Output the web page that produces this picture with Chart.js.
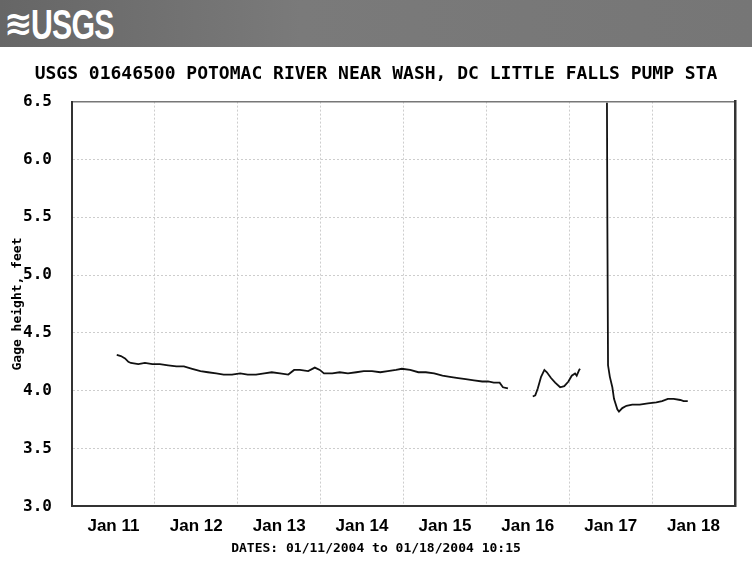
<!DOCTYPE html>
<html>
<head>
<meta charset="utf-8">
<script src="https://cdn.jsdelivr.net/npm/chart.js@4"></script>
<style>
  body { margin: 0; background: #fff; }
  #wrap { position: relative; width: 752px; height: 561px; overflow: hidden; }
  #banner {
    position: absolute; left: 0; top: 0; width: 752px; height: 47px;
    background: linear-gradient(90deg, #666 0%, #7a7a7a 40%, #767676 100%);
  }
  #logo {
    position: absolute; left: 4px; top: 1px; color: #fff; white-space: nowrap;
    font-family: "Liberation Sans", Arial, sans-serif; font-weight: bold;
  }
  #logo .wave { font-family: "DejaVu Sans"; font-size: 34px; vertical-align: top; position: relative; top: 2px; }
  #logo .name { display: inline-block; font-size: 42px; transform: scaleX(0.72); transform-origin: left; margin-left: -2px; letter-spacing: -1px; }
  canvas { position: absolute; left: 0; top: 0; }
</style>
</head>
<body>
<div id="wrap">
  <div id="banner"><div id="logo"><span class="wave">≋</span><span class="name">USGS</span></div></div>
  <canvas id="gageChart" width="752" height="561"></canvas>
</div>
<script>
// days counted from Jan 11 2004 00:00
const dayLabels = ['Jan 11', 'Jan 12', 'Jan 13', 'Jan 14', 'Jan 15', 'Jan 16', 'Jan 17', 'Jan 18'];

const seg1Day = [0.54, 0.59, 0.64, 0.68, 0.71, 0.80, 0.88, 0.97, 1.06, 1.16, 1.26, 1.35, 1.45, 1.55, 1.64,
  1.74, 1.83, 1.93, 2.03, 2.12, 2.22, 2.32, 2.41, 2.51, 2.61, 2.68, 2.75, 2.85, 2.93, 2.99, 3.04, 3.14,
  3.23, 3.33, 3.43, 3.52, 3.62, 3.72, 3.81, 3.91, 3.98, 4.08, 4.18, 4.27, 4.37, 4.47, 4.56, 4.66, 4.75,
  4.85, 4.95, 5.02, 5.09, 5.16, 5.20, 5.26];
const seg1Ft = [4.31, 4.30, 4.28, 4.25, 4.24, 4.23, 4.24, 4.23, 4.23, 4.22, 4.21, 4.21, 4.19, 4.17, 4.16,
  4.15, 4.14, 4.14, 4.15, 4.14, 4.14, 4.15, 4.16, 4.15, 4.14, 4.18, 4.18, 4.17, 4.20, 4.18, 4.15, 4.15,
  4.16, 4.15, 4.16, 4.17, 4.17, 4.16, 4.17, 4.18, 4.19, 4.18, 4.16, 4.16, 4.15, 4.13, 4.12, 4.11, 4.10,
  4.09, 4.08, 4.08, 4.07, 4.07, 4.03, 4.02];

const seg2Day = [5.56, 5.59, 5.62, 5.66, 5.70, 5.73, 5.78, 5.83, 5.89, 5.94, 5.99, 6.03, 6.07, 6.09, 6.12, 6.13];
const seg2Ft = [3.95, 3.96, 4.02, 4.12, 4.18, 4.16, 4.11, 4.07, 4.03, 4.04, 4.08, 4.13, 4.15, 4.13, 4.18, 4.19];

const seg3Day = [6.455, 6.46, 6.468, 6.49, 6.52, 6.54, 6.58, 6.60, 6.64, 6.69, 6.76, 6.85, 6.95, 7.05,
  7.12, 7.19, 7.26, 7.34, 7.38, 7.43];
const seg3Ft = [6.49, 5.44, 4.22, 4.12, 4.03, 3.93, 3.84, 3.82, 3.85, 3.87, 3.88, 3.88, 3.89, 3.90,
  3.91, 3.93, 3.93, 3.92, 3.91, 3.91];

const chartTitle = 'USGS 01646500 POTOMAC RIVER NEAR WASH, DC LITTLE FALLS PUMP STA';
const dateRange = 'DATES: 01/11/2004 to 01/18/2004 10:15';

// join the segments, a null point between them leaves a gap
const points = [];
[[seg1Day, seg1Ft], [seg2Day, seg2Ft], [seg3Day, seg3Ft]].forEach(([days, ft], s) => {
  if (s > 0) points.push({ x: days[0] - 0.01, y: null });
  days.forEach((d, i) => points.push({ x: d, y: ft[i] }));
});

const mono = 'DejaVu Sans Mono';
const gridStyle = { color: '#cdcdcd', lineWidth: 1, drawTicks: false };

new Chart(document.getElementById('gageChart').getContext('2d'), {
  type: 'line',
  data: {
    datasets: [{
      data: points,
      borderColor: '#111',
      borderWidth: 1.8,
      pointRadius: 0,
      tension: 0,
      spanGaps: false
    }]
  },
  options: {
    responsive: false,
    animation: false,
    layout: { padding: { top: 48, left: 0, right: 0, bottom: 0 } },
    plugins: {
      legend: { display: false },
      tooltip: { enabled: false },
      title: {
        display: true, text: chartTitle, color: '#000',
        font: { family: mono, size: 18, weight: 'bold' },
        padding: { top: 16, bottom: 16 }
      },
      subtitle: {
        display: true, position: 'bottom', text: dateRange, color: '#000',
        font: { family: mono, size: 13, weight: 'bold' },
        padding: { top: 3, bottom: 5 }
      }
    },
    scales: {
      x: {
        type: 'linear', min: 0, max: 8,
        afterFit: (scale) => { scale.height = 31; },
        ticks: {
          stepSize: 0.5, autoSkip: false, maxRotation: 0, padding: 10, color: '#000',
          font: { family: 'Liberation Sans', size: 17, weight: 'bold' },
          callback: (v) => {
            const i = v - 0.5;
            return Number.isInteger(i) ? dayLabels[i] : '';
          }
        },
        grid: {
          ...gridStyle,
          color: (ctx) => (ctx.tick && Number.isInteger(ctx.tick.value) ? '#cdcdcd' : 'rgba(0,0,0,0)')
        },
        border: { display: true, color: '#333', width: 2, dash: [2, 2] }
      },
      xTop: {
        type: 'linear', position: 'top', min: 0, max: 8,
        afterFit: (scale) => { scale.height = 0; },
        ticks: { display: false },
        grid: { drawOnChartArea: false, drawTicks: false },
        border: { display: true, color: '#777', width: 1.5 }
      },
      y: {
        min: 3, max: 6.5,
        afterFit: (scale) => { scale.width = 72; },
        ticks: {
          stepSize: 0.5, padding: 20, color: '#000',
          font: { family: mono, size: 16, weight: 'bold' },
          callback: (v) => v.toFixed(1)
        },
        grid: gridStyle,
        border: { display: true, color: '#333', width: 2, dash: [2, 2] },
        title: {
          display: true, text: 'Gage height, feet', color: '#000',
          font: { family: mono, size: 13, weight: 'bold' },
          padding: { top: 10, bottom: 0 }
        }
      },
      yR: {
        type: 'linear', position: 'right', min: 3, max: 6.5,
        afterFit: (scale) => { scale.width = 17; },
        ticks: { display: false },
        grid: { drawOnChartArea: false, drawTicks: false },
        border: { display: true, color: '#333', width: 2.5 }
      }
    }
  }
});
</script>
</body>
</html>
